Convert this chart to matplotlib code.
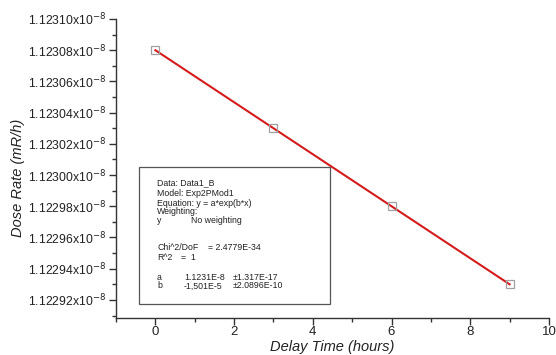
import numpy as np
import matplotlib.pyplot as plt
from matplotlib.ticker import FuncFormatter, MultipleLocator
from matplotlib.patches import Rectangle

plt.rcParams['font.family'] = ['Liberation Sans', 'DejaVu Sans']

# data (dose rate in units of 1e-8 mR/h)
delay_hours = [0, 3, 6, 9]
dose_rate = [1.12308, 1.12303, 1.12298, 1.12293]

fit_lines = [
    ("Data: Data1_B", None, None),
    ("Model: Exp2PMod1", None, None),
    ("Equation: y = a*exp(b*x)", None, None),
    ("Weighting:", None, None),
    ("y", "No weighting", None),
    ("", None, None),
    ("Chi^2/DoF", "= 2.4779E-34", None),
    ("R^2", "=  1", None),
    ("", None, None),
    ("a", "1.1231E-8", "\u00b11.317E-17"),
    ("b", "-1,501E-5", "\u00b12.0896E-10"),
]

W, H = 556, 355
fig = plt.figure(figsize=(W / 100, H / 100), dpi=100)
ax = fig.add_axes([116 / W, 1 - 318 / H, (549 - 116) / W, (318 - 19) / H])

ax.plot(delay_hours, dose_rate, color='#d41c1c', lw=1.5, zorder=2)
ax.plot(delay_hours, dose_rate, ls='none', marker='s', ms=5.5, mfc='none',
        mec='#a0a0a0', mew=0.9, zorder=3)

ax.set_xlim(-1, 10)
ax.set_ylim(1.1229084, 1.12310)
ax.xaxis.set_major_locator(MultipleLocator(2))
ax.xaxis.set_minor_locator(MultipleLocator(1))
ax.yaxis.set_major_locator(MultipleLocator(0.00002))
ax.yaxis.set_minor_locator(MultipleLocator(0.00001))
ax.yaxis.set_major_formatter(FuncFormatter(lambda v, p: f"{v:.5f}x10$^{{-8}}$"))

for s in ['top', 'right']:
    ax.spines[s].set_visible(False)
for s in ['left', 'bottom']:
    ax.spines[s].set_color('#333333')
    ax.spines[s].set_linewidth(1.0)
ax.tick_params(which='major', direction='out', length=5, width=1, colors='#333333',
               labelcolor='#222222')
ax.tick_params(axis='y', which='major', labelsize=8.8, pad=2)
ax.tick_params(axis='x', which='major', labelsize=9.5, pad=0.5)
ax.tick_params(which='minor', direction='out', length=3, width=1, colors='#333333')

ax.set_xlabel("Delay Time (hours)", fontsize=10.5, style='italic', color='#222222')
ax.xaxis.set_label_coords(0.5, -0.072)
ax.set_ylabel("Dose Rate (mR/h)", fontsize=10.5, style='italic', color='#222222')
ax.yaxis.set_label_coords(-0.21, 0.47)

# fit results box
fig.patches.append(Rectangle((139 / W, 1 - 304 / H), (330 - 139) / W, (304 - 167) / H,
                             transform=fig.transFigure, fill=False, ec='#555555', lw=0.9))
row_y = [183, 193, 203, 212, 221, 0, 248, 257, 0, 277, 286]
for (c1, c2, c3), py in zip(fit_lines, row_y):
    if not c1:
        continue
    fy = 1 - py / H
    fig.text(157 / W, fy, c1, fontsize=6.3, va='center', color='#222222')
    if c2:
        x2 = 191 if c1 == 'y' else (208 if c1.startswith('Chi') else (181 if c1 == 'R^2' else 184))
        fig.text(x2 / W, fy, c2, fontsize=6.3, va='center', color='#222222')
    if c3:
        fig.text(233 / W, fy, c3, fontsize=6.3, va='center', color='#222222')

fig.savefig('out.png', dpi=100)
